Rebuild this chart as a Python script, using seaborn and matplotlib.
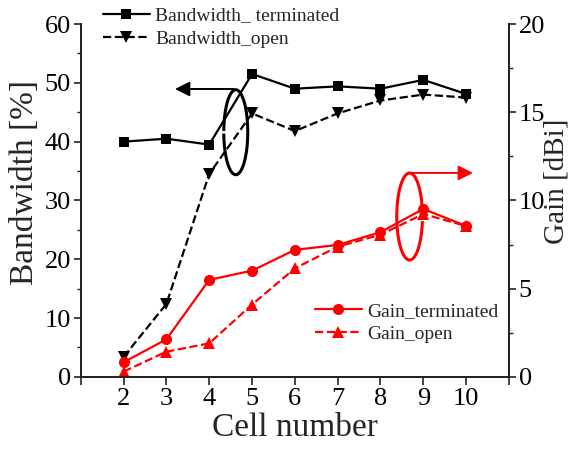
import numpy as np
import seaborn as sns
import matplotlib.pyplot as plt
from matplotlib.patches import Arc
from matplotlib.ticker import MultipleLocator

cells = [2, 3, 4, 5, 6, 7, 8, 9, 10]
bw_terminated = [40.0, 40.5, 39.5, 51.5, 49.0, 49.4, 49.0, 50.5, 48.1]
bw_open = [3.4, 12.4, 34.5, 44.8, 41.8, 44.8, 47.0, 48.0, 47.5]
gain_terminated = [0.83, 2.13, 5.5, 6.02, 7.2, 7.48, 8.2, 9.52, 8.55]
gain_open = [0.3, 1.43, 1.9, 4.1, 6.15, 7.38, 8.06, 9.23, 8.55]
x_ticks = [1, 2, 3, 4, 5, 6, 7, 8, 9, 10, 11]
x_ticklabels = ['', '2', '3', '4', '5', '6', '7', '8', '9', '10', '']

sns.set_style("ticks")
plt.rcParams['font.family'] = ['Liberation Serif', 'DejaVu Serif']

fig = plt.figure(figsize=(5.81, 4.53), dpi=100)
ax = fig.add_axes([0.139, 0.168, 0.737, 0.779])
ax2 = ax.twinx()

lw = 1.6
sns.lineplot(x=cells, y=bw_terminated, ax=ax, color='black', marker='s',
             markersize=7, markeredgewidth=0, linewidth=lw,
             label='Bandwidth_ terminated')
sns.lineplot(x=cells, y=bw_open, ax=ax, color='black', marker='v',
             markersize=8, markeredgewidth=0, linewidth=lw, linestyle='--',
             label='Bandwidth_open')
sns.lineplot(x=cells, y=gain_terminated, ax=ax2, color='red', marker='o',
             markersize=8, markeredgewidth=0, linewidth=lw,
             label='Gain_terminated')
sns.lineplot(x=cells, y=gain_open, ax=ax2, color='red', marker='^',
             markersize=8, markeredgewidth=0, linewidth=lw, linestyle='--',
             label='Gain_open')

ax.set_xlim(1, 11)
ax.set_ylim(0, 60)
ax2.set_ylim(0, 20)
ax.set_xticks(x_ticks)
ax.set_xticklabels(x_ticklabels)
ax.yaxis.set_major_locator(MultipleLocator(10))
ax.yaxis.set_minor_locator(MultipleLocator(5))
ax2.yaxis.set_major_locator(MultipleLocator(5))
ax2.yaxis.set_minor_locator(MultipleLocator(2.5))

for a in (ax, ax2):
    a.tick_params(axis='both', which='major', direction='out', length=5,
                  width=1.2, labelsize=19, pad=2, colors='#222222',
                  labelcolor='black')
    a.tick_params(axis='y', which='minor', direction='out', length=3,
                  width=1.0, colors='#222222')
    for s in a.spines.values():
        s.set_linewidth(1.3)
        s.set_color('#222222')
    a.spines['top'].set_visible(False)
ax.tick_params(axis='x', length=6)

ax.set_xlabel('Cell number', fontsize=24, labelpad=2)
ax.set_ylabel('Bandwidth [%]', fontsize=24, va='center')
ax2.set_ylabel('Gain [dBi]', fontsize=21, va='center')
ax.yaxis.set_label_coords(-0.131, 0.55)
ax2.yaxis.set_label_coords(1.11, 0.555)

# legends
leg1 = ax.legend(loc='upper left', bbox_to_anchor=(0.177, 0.985),
                 bbox_transform=fig.transFigure, frameon=False, fontsize=14,
                 handlelength=2.4, handletextpad=0.3, labelspacing=0.3,
                 borderpad=0, borderaxespad=0)
leg2 = ax2.legend(loc='upper left', bbox_to_anchor=(0.542, 0.333),
                  bbox_transform=fig.transFigure, frameon=False, fontsize=14,
                  handlelength=2.4, handletextpad=0.3, labelspacing=0.3,
                  borderpad=0, borderaxespad=0)

# annotation: bandwidth -> left axis
ax.annotate('', xy=(3.2, 48.95), xytext=(4.57, 48.95),
            arrowprops=dict(arrowstyle='-|>', color='black', lw=1.4,
                            mutation_scale=22, shrinkA=0, shrinkB=0))
ax.add_patch(Arc((4.62, 41.6), 0.56, 14.45, theta1=220, theta2=505,
                 color='black', linewidth=2.2))

# annotation: gain -> right axis
ax2.annotate('', xy=(10.16, 11.56), xytext=(8.73, 11.56),
             arrowprops=dict(arrowstyle='-|>', color='red', lw=1.4,
                             mutation_scale=22, shrinkA=0, shrinkB=0))
ax2.add_patch(Arc((8.68, 9.09), 0.6, 4.93, theta1=33, theta2=319,
                  color='red', linewidth=2.2))

fig.savefig('out.png', dpi=100)
